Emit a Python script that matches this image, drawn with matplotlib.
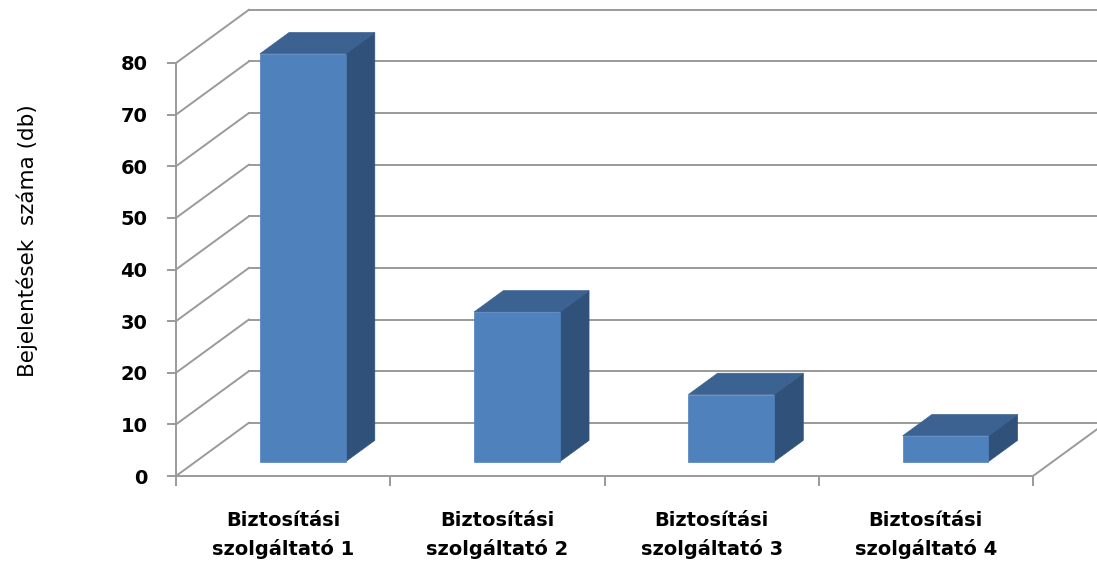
import matplotlib.pyplot as plt
from matplotlib.patches import Polygon

# adatok
categories = ['Biztosítási\nszolgáltató 1', 'Biztosítási\nszolgáltató 2',
              'Biztosítási\nszolgáltató 3', 'Biztosítási\nszolgáltató 4']
values = [79, 29, 13, 5]
yticks = [0, 10, 20, 30, 40, 50, 60, 70, 80]

# 3D hatás paraméterei (adategységben)
dx, dy = 0.34, 10.3        # mélységi eltolás
f0, f1 = 0.27, 0.67        # oszlop eleje / hátulja a mélységben
bw = 0.4                   # oszlop szélesség

front_c, side_c, top_c = '#4F81BD', '#30527A', '#3B6290'
grid_c = '#9A9A9A'

plt.rcParams['font.family'] = ['DejaVu Sans']

fig = plt.figure(figsize=(10.97, 5.68), dpi=100)
ax = fig.add_axes([176 / 1097, 92 / 568, 857 / 1097, 413 / 568])
ax.set_xlim(0, len(categories))
ax.set_ylim(0, 80)
ax.patch.set_visible(False)


def proj(x, v, f):
    return (x + f * dx, v + f * dy)


# hátsó fal és bal oldalfal rácsvonalai
n = len(categories)
for v in yticks:
    ax.plot([0, dx], [v, v + dy], color=grid_c, lw=1.4, clip_on=False, zorder=1)
    ax.plot([dx, n + dx], [v + dy, v + dy], color=grid_c, lw=1.4, clip_on=False, zorder=1)
# padló jobb széle
ax.plot([n, n + dx], [0, dy], color=grid_c, lw=1.4, clip_on=False, zorder=1)

# oszlopok
for i, val in enumerate(values):
    x0, x1 = i + 0.5 - bw / 2, i + 0.5 + bw / 2
    front = [proj(x0, 0, f0), proj(x1, 0, f0), proj(x1, val, f0), proj(x0, val, f0)]
    side = [proj(x1, 0, f0), proj(x1, 0, f1), proj(x1, val, f1), proj(x1, val, f0)]
    top = [proj(x0, val, f0), proj(x1, val, f0), proj(x1, val, f1), proj(x0, val, f1)]
    for pts, c in ((side, side_c), (top, top_c), (front, front_c)):
        ax.add_patch(Polygon(pts, closed=True, facecolor=c, edgecolor=c, lw=0.5,
                             clip_on=False, zorder=3))

# tengelyek
for s in ('top', 'right'):
    ax.spines[s].set_visible(False)
for s in ('left', 'bottom'):
    ax.spines[s].set_color(grid_c)
    ax.spines[s].set_linewidth(1.4)

ax.set_yticks(yticks)
ax.set_yticklabels([str(t) for t in yticks], fontsize=14, fontweight='bold')
ax.tick_params(axis='y', length=6.5, width=1.4, color=grid_c, pad=14)

ax.set_xticks(range(n + 1))
ax.set_xticklabels([])
ax.set_xticks([i + 0.5 for i in range(n)], minor=True)
ax.set_xticklabels(categories, minor=True, fontsize=14, fontweight='bold',
                   linespacing=1.55)
ax.tick_params(axis='x', which='major', length=7, width=1.4, color=grid_c)
ax.tick_params(axis='x', which='minor', length=0, pad=25)

fig.text(27 / 1097, 1 - 241 / 568, 'Bejelentések  száma (db)', rotation=90,
         ha='center', va='center', fontsize=15.5)

fig.savefig('out.png', dpi=100)
